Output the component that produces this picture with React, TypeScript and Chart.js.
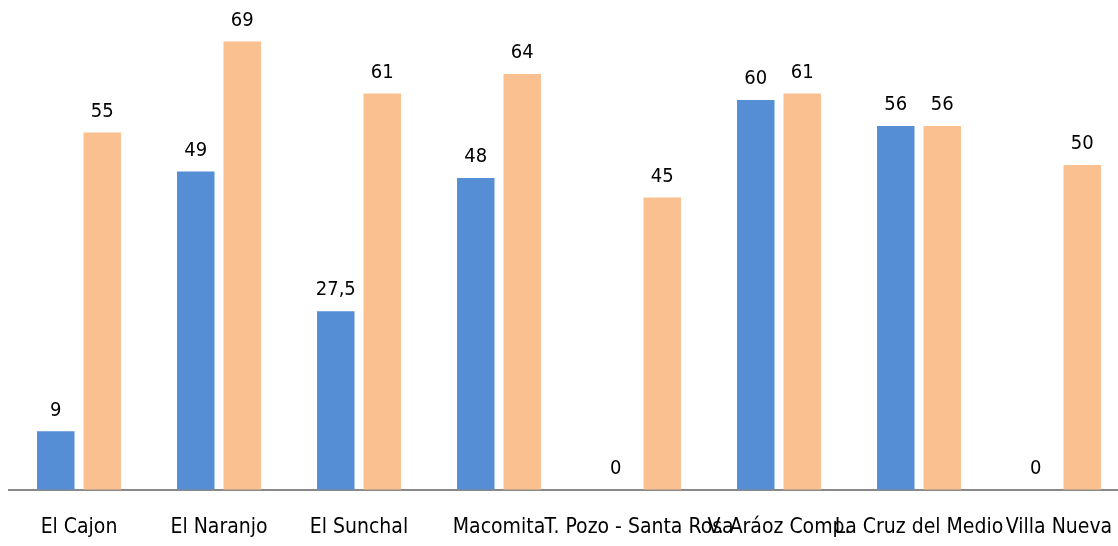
import React, { useEffect, useRef } from "react";
import { Chart, registerables } from "chart.js";

Chart.register(...registerables);

const categories = [
  "El Cajon",
  "El Naranjo",
  "El Sunchal",
  "Macomita",
  "T. Pozo - Santa Rosa",
  "V. Aráoz Comp.",
  "La Cruz del Medio",
  "Villa Nueva",
];
const seriesBlue = [9, 49, 27.5, 48, 0, 60, 56, 0];
const seriesOrange = [55, 69, 61, 64, 45, 61, 56, 50];

const FONT = "'DejaVu Sans Condensed', 'Liberation Sans Narrow', sans-serif";

const valueLabels = {
  id: "valueLabels",
  afterDatasetsDraw(chart: any) {
    const ctx = chart.ctx;
    ctx.save();
    ctx.font = `20px ${FONT}`;
    ctx.fillStyle = "#000";
    ctx.textAlign = "center";
    ctx.textBaseline = "middle";
    chart.data.datasets.forEach((ds: any, di: number) => {
      const meta = chart.getDatasetMeta(di);
      meta.data.forEach((bar: any, i: number) => {
        const v = ds.data[i];
        const txt = String(v).replace(".", ",");
        ctx.fillText(txt, bar.x, bar.y - 21);
      });
    });
    ctx.restore();
  },
};

export default function App() {
  const ref = useRef<HTMLCanvasElement>(null);
  useEffect(() => {
    if (!ref.current) return;
    const chart = new Chart(ref.current, {
      type: "bar",
      data: {
        labels: categories,
        datasets: [
          {
            label: "A",
            data: seriesBlue,
            backgroundColor: "#558ED5",
            categoryPercentage: 0.664,
            barPercentage: 0.806,
          },
          {
            label: "B",
            data: seriesOrange,
            backgroundColor: "#FAC090",
            categoryPercentage: 0.664,
            barPercentage: 0.806,
          },
        ],
      },
      options: {
        responsive: false,
        animation: false,
        layout: { padding: { left: 9, right: 11, top: 35, bottom: 4 } },
        plugins: {
          legend: { display: false },
          tooltip: { enabled: false },
        },
        scales: {
          x: {
            grid: { display: false, drawTicks: false },
            border: { display: true, color: "#898989", width: 2 },
            ticks: {
              autoSkip: false,
              maxRotation: 0,
              minRotation: 0,
              padding: 25,
              color: "#000",
              font: { family: FONT, size: 21 },
            },
          },
          y: {
            display: false,
            min: 0,
            max: 70,
          },
        },
      },
      plugins: [valueLabels],
    });
    return () => chart.destroy();
  }, []);
  return (
    <div
      style={{
        position: "fixed",
        left: 0,
        top: 0,
        width: 1118,
        height: 546,
        overflow: "hidden",
        background: "#fff",
      }}
    >
      <canvas ref={ref} width={1140} height={569} style={{ display: "block" }} />
    </div>
  );
}
